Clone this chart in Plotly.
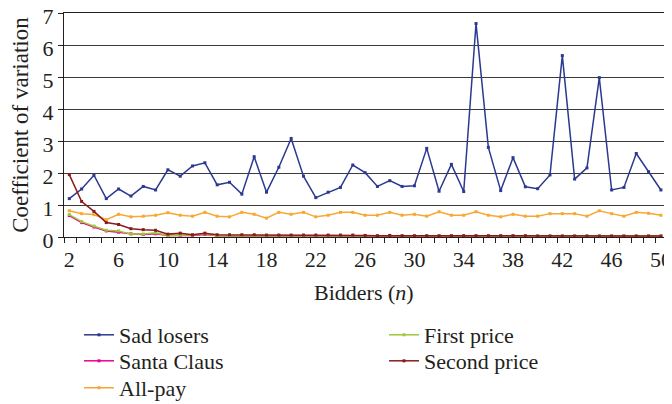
import plotly.graph_objects as go

# 数据：拍卖人数 n = 2..50
bidders = list(range(2, 51))

sad_losers = [1.20, 1.50, 1.93, 1.20, 1.50, 1.28, 1.58, 1.47, 2.10, 1.90,
              2.22, 2.32, 1.63, 1.71, 1.34, 2.51, 1.40, 2.18, 3.08, 1.90,
              1.23, 1.40, 1.55, 2.25, 2.01, 1.58, 1.76, 1.58, 1.60, 2.77,
              1.43, 2.27, 1.42, 6.67, 2.80, 1.45, 2.48, 1.57, 1.51, 1.94,
              5.67, 1.81, 2.16, 4.98, 1.47, 1.55, 2.61, 2.04, 1.47]

santa_claus = [0.67, 0.45, 0.31, 0.19, 0.15, 0.10, 0.08, 0.10, 0.05, 0.04,
               0.05, 0.08, 0.04, 0.03, 0.03, 0.03, 0.03, 0.03, 0.03, 0.03,
               0.03, 0.02, 0.02, 0.02, 0.02, 0.02, 0.02, 0.02, 0.02, 0.02,
               0.02, 0.02, 0.02, 0.02, 0.02, 0.02, 0.02, 0.02, 0.02, 0.02,
               0.02, 0.02, 0.02, 0.02, 0.02, 0.02, 0.02, 0.02, 0.02]

all_pay = [0.82, 0.73, 0.70, 0.54, 0.71, 0.63, 0.65, 0.68, 0.76, 0.68,
           0.65, 0.77, 0.65, 0.63, 0.77, 0.71, 0.59, 0.77, 0.71, 0.77,
           0.63, 0.68, 0.77, 0.77, 0.68, 0.68, 0.77, 0.68, 0.71, 0.65,
           0.79, 0.68, 0.68, 0.79, 0.68, 0.63, 0.71, 0.65, 0.65, 0.73,
           0.73, 0.73, 0.65, 0.82, 0.73, 0.65, 0.77, 0.74, 0.68]

first_price = [0.70, 0.48, 0.34, 0.21, 0.19, 0.09, 0.09, 0.13, 0.05, 0.06,
               0.06, 0.10, 0.04, 0.04, 0.04, 0.03, 0.03, 0.03, 0.03, 0.03,
               0.03, 0.03, 0.03, 0.03, 0.03, 0.03, 0.03, 0.03, 0.03, 0.03,
               0.03, 0.03, 0.03, 0.03, 0.03, 0.03, 0.03, 0.03, 0.03, 0.03,
               0.03, 0.03, 0.03, 0.03, 0.03, 0.03, 0.03, 0.03, 0.03]

second_price = [1.95, 1.11, 0.80, 0.45, 0.39, 0.26, 0.23, 0.21, 0.09, 0.12,
                0.07, 0.12, 0.07, 0.07, 0.07, 0.07, 0.06, 0.06, 0.06, 0.06,
                0.06, 0.06, 0.06, 0.06, 0.05, 0.04, 0.05, 0.04, 0.04, 0.04,
                0.04, 0.04, 0.04, 0.04, 0.04, 0.04, 0.04, 0.04, 0.03, 0.03,
                0.03, 0.03, 0.03, 0.03, 0.03, 0.03, 0.03, 0.03, 0.03]

x_ticks = list(range(2, 51, 4))

FONT = "Liberation Serif"

# 图例按两列排列：左列三项，右列两项（每项单独一个 legend 以便精确定位）
series = [
    ("Sad losers", sad_losers, "#2b3990", "legend", 0.025, -0.4375),
    ("Santa Claus", santa_claus, "#ec008c", "legend2", 0.025, -0.5536),
    ("All-pay", all_pay, "#f7a833", "legend3", 0.025, -0.674),
    ("First price", first_price, "#9dc83b", "legend4", 0.5334, -0.4375),
    ("Second price", second_price, "#8b1a1a", "legend5", 0.5334, -0.5536),
]

fig = go.Figure()
legends = {}
for name, vals, color, leg, lx, ly in series:
    fig.add_trace(go.Scatter(
        x=bidders, y=vals, name=name, mode="lines+markers",
        line=dict(color=color, width=1.5),
        marker=dict(color=color, size=3, symbol="square"),
        legend=leg,
    ))
    legends[leg] = dict(x=lx, y=ly, xanchor="left", yanchor="middle",
                        font=dict(size=22), bgcolor="rgba(0,0,0,0)")

# 页面 body 默认有 8px 外边距，因此画布缩小 8px
fig.update_layout(
    width=664, height=396,
    margin=dict(l=56, r=8, t=5, b=167, autoexpand=False),
    plot_bgcolor="white", paper_bgcolor="white",
    showlegend=True,
    font=dict(family=FONT, size=22, color="#231f20"),
    **legends,
)

# x 轴标题用注释放置
fig.add_annotation(text="Bidders (<i>n</i>)", xref="paper", yref="paper",
                   x=0.5, y=-0.246, xanchor="center", yanchor="middle",
                   showarrow=False, font=dict(size=22))

fig.update_xaxes(
    range=[1.57, 50.25], tickvals=x_ticks, ticks="",
    showgrid=False, zeroline=False, automargin=False,
    ticklabeloverflow="allow",
    showline=True, linecolor="#231f20", linewidth=1, mirror=True,
    minor=dict(tick0=1.6, dtick=1, ticks="outside", ticklen=5,
               tickcolor="#231f20", showgrid=False),
    tickfont=dict(size=22), ticklabelstandoff=3,
)
fig.update_yaxes(
    range=[0, 7], dtick=1, ticks="outside", ticklen=5, tickcolor="#231f20",
    showgrid=True, gridcolor="#3c3c3c", gridwidth=1, zeroline=False,
    showline=True, linecolor="#231f20", linewidth=1, mirror=True,
    automargin=False, ticklabeloverflow="allow", ticklabelshift=3,
    tickfont=dict(size=22),
    title=dict(text="Coefficient of variation", font=dict(size=23), standoff=10),
)

fig.write_html("out.html")
